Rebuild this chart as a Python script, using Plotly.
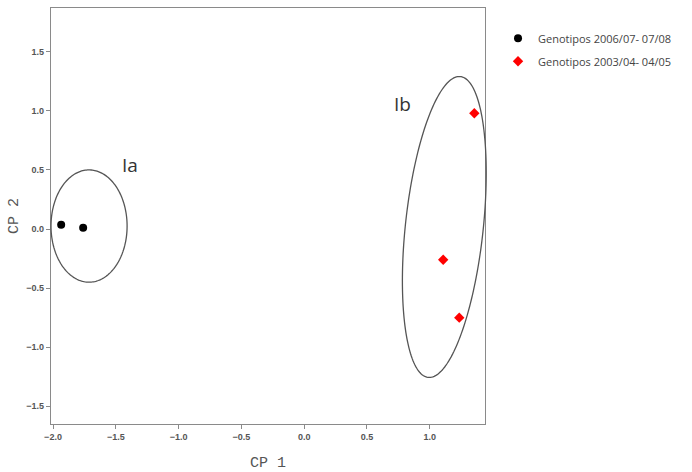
import numpy as np
import plotly.graph_objects as go

# Data
g1_name = "Genotipos 2006/07- 07/08"
g1_x = [-1.935, -1.76]
g1_y = [0.035, 0.01]

g2_name = "Genotipos 2003/04- 04/05"
g2_x = [1.355, 1.107, 1.235]
g2_y = [0.98, -0.26, -0.75]

x_ticks = [-2.0, -1.5, -1.0, -0.5, 0.0, 0.5, 1.0]
y_ticks = [-1.5, -1.0, -0.5, 0.0, 0.5, 1.0, 1.5]

# Ellipses: center (data), semi-axes (data units along rotated pixel frame), tilt deg
ell_labels = ["Ia", "Ib"]
ell_cx = [-1.713, 1.116]
ell_cy = [0.025, 0.017]
ell_ax = [0.303, 0.31]
ell_ay = [0.475, 1.28]
ell_tilt = [0.0, 6.1]
lab_x = [-1.39, 0.78]
lab_y = [0.54, 1.06]

X_RANGE = [-2.016, 1.44]
Y_RANGE = [-1.65, 1.87]
W, H = 692, 472
ML, MR, MT, MB = 51, 207, 8, 48
sx = (W - ML - MR) / (X_RANGE[1] - X_RANGE[0])
sy = (H - MT - MB) / (Y_RANGE[1] - Y_RANGE[0])

fig = go.Figure()

shapes = []
for cx, cy, ax, ay, tilt in zip(ell_cx, ell_cy, ell_ax, ell_ay, ell_tilt):
    t = np.linspace(0, 2 * np.pi, 200)
    u = ax * sx * np.cos(t)
    v = ay * sy * np.sin(t)
    th = np.deg2rad(tilt)
    pu = u * np.cos(th) + v * np.sin(th)
    pv = -u * np.sin(th) + v * np.cos(th)
    xd = cx + pu / sx
    yd = cy + pv / sy
    xp = (xd - X_RANGE[0]) / (X_RANGE[1] - X_RANGE[0])
    yp = (yd - Y_RANGE[0]) / (Y_RANGE[1] - Y_RANGE[0])
    path = "M " + " L ".join(f"{a:.5f},{b:.5f}" for a, b in zip(xp, yp)) + " Z"
    shapes.append(dict(type="path", xref="paper", yref="paper", path=path,
                       line=dict(color="#555555", width=1.3), layer="above"))

fig.add_trace(go.Scatter(x=g1_x, y=g1_y, mode="markers", name=g1_name,
                         legendgroup="a",
                         marker=dict(color="black", size=8, symbol="circle")))
fig.add_trace(go.Scatter(x=g2_x, y=g2_y, mode="markers", name=g2_name,
                         legendgroup="b",
                         marker=dict(color="red", size=8, symbol="diamond")))

for lab, lx, ly in zip(ell_labels, lab_x, lab_y):
    fig.add_annotation(x=lx, y=ly, text=lab, showarrow=False,
                       font=dict(family="Open Sans", size=19, color="#333333"))

axis_common = dict(showgrid=False, zeroline=False, showline=True, linecolor="#8a8a8a",
                   linewidth=1.3, mirror=True, ticks="outside", ticklen=4,
                   tickcolor="#8a8a8a", tickformat=".1f", automargin=False,
                   tickfont=dict(family="Liberation Sans", size=9, color="#555555",
                                 weight="bold"))

fig.update_layout(
    width=W, height=H,
    margin=dict(l=ML, r=MR, t=MT, b=MB),
    paper_bgcolor="white", plot_bgcolor="white",
    shapes=shapes,
    xaxis=dict(range=X_RANGE, tickvals=x_ticks, **axis_common,
               title=dict(text="CP 1", standoff=16,
                          font=dict(family="Liberation Mono", size=15, color="#555555"))),
    yaxis=dict(range=Y_RANGE, tickvals=y_ticks, **axis_common,
               title=dict(text="CP 2", standoff=4,
                          font=dict(family="Liberation Mono", size=15, color="#555555"))),
    legend=dict(x=1.03, y=0.962, xanchor="left", yanchor="top",
                font=dict(family="Open Sans", size=11, color="#444444"),
                tracegroupgap=4, bgcolor="rgba(0,0,0,0)"),
    showlegend=True,
)

fig.write_html("out.html")
